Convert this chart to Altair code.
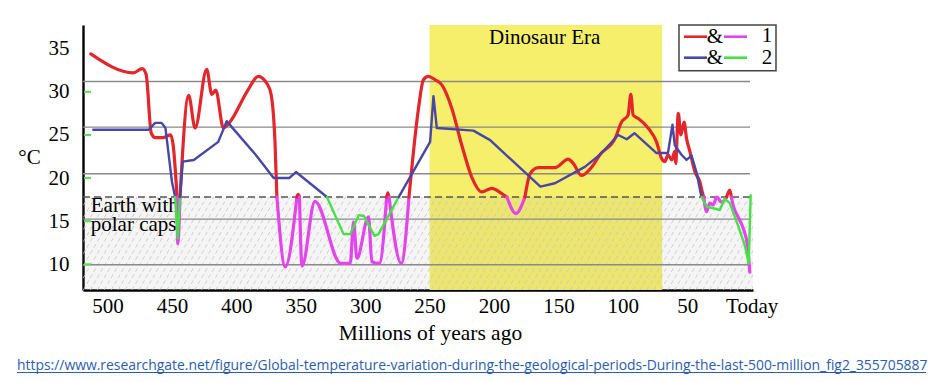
import altair as alt
import pandas as pd

# ---------------- data ----------------
# Series 1 (red above the polar-cap line, magenta below)
ages1 = [513, 480, 473, 470, 466, 463, 456.6, 451, 449, 446, 445.5, 443.7, 437, 432, 423, 419, 416,
         410, 405, 391, 383, 376, 373, 370, 368.5, 362, 353, 352, 351, 349, 339, 319, 311.6, 309,
         306.4, 297.4, 294.8, 289, 283.3, 282.4, 281.5, 272, 266, 258.6, 254.8, 251, 245.7, 240.5,
         232.8, 225, 217, 209.5, 201.8, 194, 190, 183, 176, 172, 165.6, 152.7, 142.4, 138.5, 132,
         124, 117.8, 106, 101, 96, 93.8, 92, 88, 80.4, 73.9, 70, 67.4, 65, 62, 59.7, 59, 57, 55,
         52.5, 50.6, 48, 44, 40.3, 37.7, 37.2, 35, 32.6, 30, 27, 23.5, 19.5, 17, 15.8, 14.5, 10.6,
         6.7, 3.3, 1.5]
temps1 = [34.4, 32.2, 32.7, 32.0, 25.2, 24.7, 24.7, 25.0, 23.8, 17.8, 12.4, 17.8, 29.6, 25.8, 32.6,
          29.7, 30.2, 25.8, 26.5, 30.2, 31.8, 30.9, 29.7, 24.2, 17.8, 9.7, 17.8, 18.1, 17.8, 9.8,
          17.3, 10.1, 10.1, 14.9, 10.7, 15.5, 10.3, 10.1, 17.8, 18.3, 17.8, 10.1, 17.8, 28.1, 31.4,
          31.8, 31.4, 30.8, 28.1, 23.8, 20.0, 18.4, 18.8, 18.2, 17.8, 15.9, 17.8, 20.5, 21.2, 21.2,
          22.2, 21.7, 20.3, 21.3, 22.7, 24.6, 26.5, 27.3, 29.7, 27.3, 26.9, 25.8, 24.2, 22.3, 21.9,
          22.7, 22.1, 23.1, 21.7, 27.5, 25.0, 26.5, 24.6, 23.1, 20.7, 19.6, 18.0, 17.8, 16.1, 17.1,
          16.9, 17.8, 17.2, 17.8, 18.6, 17.8, 16.9, 15.5, 14.2, 12.2, 9.1]

# Series 2 (blue above the polar-cap line, green below)
ages2 = [511, 468, 463, 458, 455, 450, 447.5, 445.5, 443.7, 441.6, 433, 414, 407.5, 385, 371, 359,
         353.7, 329.7, 316.8, 311.6, 305, 301, 292.8, 289.7, 274, 249.6, 247, 244.4, 216, 203, 164,
         152.7, 129.5, 117.8, 103.6, 97, 91, 73.9, 65, 61.5, 59.7, 54.5, 50.6, 46.7, 42.9, 39, 35,
         24.8, 21, 17, 10.6, 5.4, 2.3, 0.8]
temps2 = [25.6, 25.6, 26.4, 26.4, 25.8, 19.6, 17.8, 13.0, 17.8, 21.9, 22.1, 24.2, 26.6, 22.7, 20.0,
          20.0, 20.7, 17.8, 13.5, 13.5, 15.7, 15.6, 13.3, 13.5, 17.8, 24.2, 29.5, 25.8, 25.5, 24.4,
          19.0, 19.4, 21.3, 22.7, 25.0, 24.5, 25.2, 22.9, 22.9, 26.2, 23.8, 22.7, 22.1, 22.6, 20.7,
          17.8, 16.7, 16.3, 17.6, 17.1, 14.5, 12.2, 10.1, 18.0]

POLAR_LINE = 17.8                      # "Earth with polar caps" threshold
grid_values = [9.95, 15.25, 20.5, 25.9, 31.2]
y_tick_values = [10, 15, 20, 25, 30, 35]
green_tick_values = [10, 15, 20, 25, 30]
x_tick_values = [500, 450, 400, 350, 300, 250, 200, 150, 100, 50, 0]
dino_start, dino_end = 250, 69.5
url = ("https://www.researchgate.net/figure/Global-temperature-variation-during-the-geological-"
       "periods-During-the-last-500-million_fig2_355705887")

# ---------------- helpers ----------------
RED, MAGENTA, BLUE, GREEN = "#e2262c", "#e344ec", "#4747a8", "#47e047"
SERIF = "Liberation Serif"
W, H = 670, 265
x_scale = alt.Scale(domain=[519, -1], nice=False, zero=False)
y_scale = alt.Scale(domain=[7.02, 37.75], nice=False, zero=False)


def split(ages, temps, warm, cold, name):
    rows, seg, prev = [], 0, None
    for i in range(len(ages) - 1):
        c = warm if (temps[i] + temps[i + 1]) / 2 >= POLAR_LINE - 1e-9 else cold
        if c != prev:
            seg += 1
            rows.append(dict(age=ages[i], temp=temps[i], seg=f"{name}{seg}", color=c, order=i))
            prev = c
        rows.append(dict(age=ages[i + 1], temp=temps[i + 1], seg=f"{name}{seg}", color=c, order=i + 1))
    return pd.DataFrame(rows)


df1 = split(ages1, temps1, RED, MAGENTA, "a")
df2 = split(ages2, temps2, BLUE, GREEN, "b")
one = pd.DataFrame({"k": [0]})

x_axis = alt.Axis(values=x_tick_values, labelExpr="datum.value == 0 ? 'Today' : datum.label",
                  labelFont=SERIF, labelFontSize=21, labelColor="black", tickSize=0, labelPadding=5,
                  domainColor="black", domainWidth=2.6, grid=False, labelFlush=False,
                  title="Millions of years ago", titleFont=SERIF, titleFontSize=21.5,
                  titleFontWeight="normal", titleColor="black", titleX=347, titleY=43,
                  titleBaseline="middle", titleAlign="center")
y_axis = alt.Axis(values=y_tick_values, labelFont=SERIF, labelFontSize=21, labelColor="black",
                  tickSize=0, labelPadding=14, domainColor="black", domainWidth=2.4, grid=False,
                  title="°C", titleFont=SERIF, titleFontSize=21, titleFontWeight="normal",
                  titleColor="black", titleAngle=0, titleX=-54, titleY=132, titleAlign="center",
                  titleBaseline="middle")


def X(field):
    return alt.X(field, scale=x_scale, axis=x_axis)


def Y(field):
    return alt.Y(field, scale=y_scale, axis=y_axis)


# ---------------- layers ----------------
band = alt.Chart(pd.DataFrame({"s": [dino_start], "e": [dino_end]})).mark_rect(
    color="#f6ef6c").encode(x=X("s:Q"), x2="e:Q", y=alt.value(0), y2=alt.value(H))

hatch_bg = alt.Chart(pd.DataFrame({"lo": [7.02], "hi": [POLAR_LINE]})).mark_rect(
    color="#909090", opacity=0.09).encode(x=alt.value(0), x2=alt.value(W), y=Y("lo:Q"), y2="hi:Q")

# decorative diagonal hatching of the polar-cap zone
hatch_rows = []
a = 562.0
while a > -2:
    hatch_rows.append(dict(a=a, a2=a - 41.7, lo=7.02, hi=POLAR_LINE))
    a -= 5.4
hatch = alt.Chart(pd.DataFrame(hatch_rows)).mark_rule(
    color="#c4c4c4", strokeWidth=0.8, strokeDash=[4, 3], clip=True).encode(
    x=X("a:Q"), x2="a2:Q", y=Y("lo:Q"), y2="hi:Q")

grid = alt.Chart(pd.DataFrame({"g": grid_values})).mark_rule(color="#8a8a8a", strokeWidth=1.3).encode(
    y=Y("g:Q"), x=alt.value(0), x2=alt.value(667))

polar = alt.Chart(pd.DataFrame({"t": [POLAR_LINE]})).mark_rule(
    color="#555555", strokeWidth=1.4, strokeDash=[7, 4]).encode(
    y=Y("t:Q"), x=alt.value(0), x2=alt.value(667))

green_ticks = alt.Chart(pd.DataFrame({"v": green_tick_values})).mark_rule(
    color="#55dd55", strokeWidth=2).encode(y=Y("v:Q"), x=alt.value(1), x2=alt.value(8))

dino_text = alt.Chart(pd.DataFrame({"age": [160.7], "temp": [36.2], "t": ["Dinosaur Era"]})).mark_text(
    font=SERIF, fontSize=21, color="black", align="center", baseline="middle").encode(
    x=X("age:Q"), y=Y("temp:Q"), text="t:N")

caps_text = alt.Chart(pd.DataFrame({"age": [513, 513], "temp": [16.8, 14.5],
                                    "t": ["Earth with", "polar caps"]})).mark_text(
    font=SERIF, fontSize=21, color="black", align="left", baseline="middle").encode(
    x=X("age:Q"), y=Y("temp:Q"), text="t:N")

line1 = alt.Chart(df1).mark_line(strokeWidth=3.2, strokeCap="round", strokeJoin="round",
                                 interpolate="monotone").encode(
    x=X("age:Q"), y=Y("temp:Q"),
    color=alt.Color("color:N", scale=None), detail="seg:N", order="order:Q")

line2 = alt.Chart(df2).mark_line(strokeWidth=2.4, strokeCap="round", strokeJoin="round").encode(
    x=X("age:Q"), y=Y("temp:Q"),
    color=alt.Color("color:N", scale=None), detail="seg:N", order="order:Q")

# legend drawn by hand (as in the original figure)
leg_box = alt.Chart(one).mark_rect(fill="white", stroke="#444444", strokeWidth=1.5).encode(
    x=alt.value(596), x2=alt.value(693), y=alt.value(0), y2=alt.value(45.7))


def leg_line(x0, x1, y, c):
    return alt.Chart(one).mark_rule(color=c, strokeWidth=2.6).encode(
        x=alt.value(x0), x2=alt.value(x1), y=alt.value(y))


def leg_text(x, y, t):
    return alt.Chart(one).mark_text(font=SERIF, fontSize=21, color="black", align="center",
                                    baseline="middle").encode(x=alt.value(x), y=alt.value(y),
                                                              text=alt.value(t))


legend = [leg_box,
          leg_line(601, 624, 11.7, RED), leg_line(641, 664, 11.7, MAGENTA),
          leg_line(601, 624, 32.7, BLUE), leg_line(641, 664, 32.7, GREEN),
          leg_text(632, 11.7, "&"), leg_text(632, 32.7, "&"),
          leg_text(684, 11.2, "1"), leg_text(684, 32.5, "2")]

LINK = "#2a5db0"
url_text = alt.Chart(one).mark_text(font="Open Sans", fontSize=13.9, color=LINK, align="left",
                                    baseline="middle").encode(x=alt.value(-66), y=alt.value(341),
                                                              text=alt.value(url))
url_line = alt.Chart(one).mark_rule(color=LINK, strokeWidth=1).encode(
    x=alt.value(-66), x2=alt.value(843), y=alt.value(347.5))

chart = alt.layer(band, hatch_bg, hatch, grid, polar, green_ticks, dino_text, caps_text,
                  line1, line2, *legend, url_text, url_line).properties(
    width=W, height=H, autosize=alt.AutoSizeParams(type="none"),
    padding={"left": 75, "top": 17, "right": 180, "bottom": 84}
).configure_view(stroke=None)

chart.save("out.html", embed_options={"renderer": "svg", "actions": False})
